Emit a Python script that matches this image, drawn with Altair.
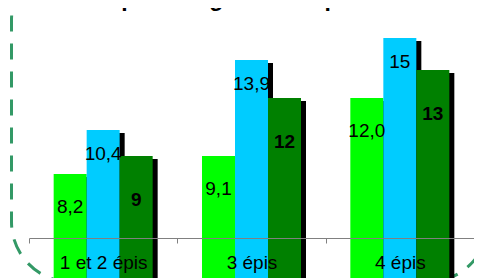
import altair as alt
import pandas as pd

categories = ["1 et 2 épis", "3 épis", "4 épis"]
series = ["A", "B", "C"]
vals_a = [8.2, 9.1, 12.0]
vals_b = [10.4, 13.9, 15.0]
vals_c = [9.1, 12.0, 13.4]
labels_a = ["8,2", "9,1", "12,0"]
labels_b = ["10,4", "13,9", "15"]
labels_c = ["9", "12", "13"]
colors = ["#00FF00", "#00CCFF", "#008000"]
title_text = "par catégorie et espace"

rows = []
for s, vals, labs in zip(series, [vals_a, vals_b, vals_c], [labels_a, labels_b, labels_c]):
    for c, v, l in zip(categories, vals, labs):
        rows.append({"cat": c, "serie": s, "value": v, "label": l})
df = pd.DataFrame(rows)

FONT = "Liberation Sans"
BAR = 33

x = alt.X(
    "cat:N", sort=categories,
    scale=alt.Scale(domain=categories, paddingInner=0, paddingOuter=0),
    axis=alt.Axis(title=None, labelAngle=0, tickBand="extent", domainColor="#808080",
                  tickColor="#808080", tickSize=5, labelFontSize=19, labelFont=FONT,
                  labelColor="black", labelPadding=10, zindex=1),
)
y = alt.Y("value:Q", scale=alt.Scale(domain=[5, 16.5], zero=False, nice=False), axis=None)

base = alt.Chart(df)
offsets = [-BAR, 0, BAR]
label_dy = [33, 24, 44]
weights = ["normal", "normal", "bold"]

shadows = []
bars = []
texts = []
for s, col, off, dy, w in zip(series, colors, offsets, label_dy, weights):
    sub = base.transform_filter(alt.datum.serie == s)
    shadows.append(sub.mark_bar(color="black", size=BAR, xOffset=off + 5, yOffset=3).encode(x=x, y=y))
    bars.append(sub.mark_bar(color=col, size=BAR, xOffset=off).encode(x=x, y=y))
    texts.append(sub.mark_text(dx=off, dy=dy, fontSize=19, font=FONT, fontWeight=w,
                               color="black", baseline="middle").encode(x=x, y=y, text="label:N"))

border = alt.Chart(pd.DataFrame({"k": [0]})).mark_rect(
    fillOpacity=0, stroke="#339966", strokeWidth=3, strokeDash=[16, 12],
    strokeDashOffset=12.25, cornerRadius=60,
).encode(x=alt.value(-17.5), x2=alt.value(459), y=alt.value(-48), y2=alt.value(274))

# Chart title (its upper part lies above the visible area, as in the reference)
title = alt.Chart(pd.DataFrame({"t": [title_text]})).mark_text(
    fontSize=23, font=FONT, fontWeight="bold", color="black", align="center", baseline="alphabetic",
).encode(x=alt.value(220), y=alt.value(-2), text="t:N")

chart = alt.layer(border, *shadows, *bars, *texts, title).properties(
    width=445, height=230,
    padding={"left": 21, "top": 0, "right": 0, "bottom": 40},
    autosize=alt.AutoSizeParams(type="none"),
).configure_view(stroke=None)

chart.save("out.html", embed_options={"renderer": "svg", "actions": False})
